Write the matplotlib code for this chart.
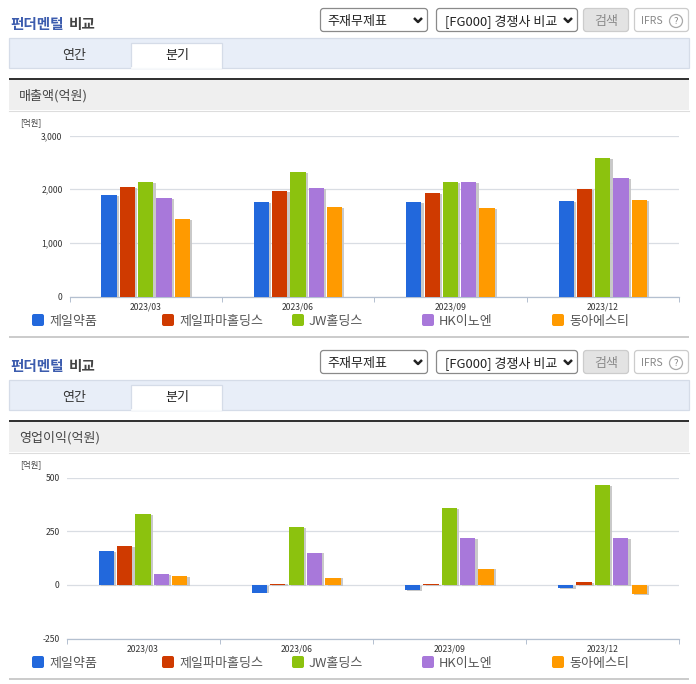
from matplotlib import pyplot as plt
from matplotlib import patheffects
from matplotlib.patches import Circle, FancyBboxPatch, Rectangle
from matplotlib.ticker import FixedLocator, FuncFormatter
import numpy as np

plt.rcParams['font.family'] = ['Noto Sans CJK KR', 'DejaVu Sans']

quarters = ['2023/03', '2023/06', '2023/09', '2023/12']
companies = ['제일약품', '제일파마홀딩스', 'JW홀딩스', 'HK이노엔', '동아에스티']
colors = ['#2268dc', '#cf3a00', '#8cc20e', '#a878da', '#ff9a00']

# one row per quarter, one column per company
sales = [
    [1886, 2035, 2129, 1830, 1444],
    [1755, 1967, 2322, 2017, 1662],
    [1755, 1930, 2129, 2129, 1643],
    [1774, 1998, 2577, 2203, 1793],
]
profit = [
    [159, 182, 330, 52, 39],
    [-36, 6, 270, 150, 34],
    [-26, 3, 358, 219, 76],
    [-17, 11, 465, 219, -45],
]
sales_ticks = [0, 1000, 2000, 3000]
profit_ticks = [-250, 0, 250, 500]

W, H = 696, 684
GAP = 342


def pt(px):
    return px * 0.72


def rounded(bg, x0, y0, x1, y1, face, edge):
    bg.add_patch(FancyBboxPatch((x0, y0), x1 - x0, y1 - y0, boxstyle='round,pad=0,rounding_size=3',
                                facecolor=face, edgecolor=edge, linewidth=0.9))


def chevron(bg, x, y):
    bg.plot([x - 4, x, x + 4], [y - 2, y + 2, y - 2], color='#222222', lw=1.8, solid_capstyle='butt')


def draw_header(bg, dy, band_title):
    bg.text(10, 24 + dy, '펀더멘털', color='#3c5cae', fontsize=pt(14.6), fontweight='bold', va='center')
    bg.text(69, 24 + dy, '비교', color='#444444', fontsize=pt(14.6), fontweight='bold', va='center')

    rounded(bg, 320.5, 8.5 + dy, 427.5, 31.5 + dy, 'white', '#8a8a8a')
    bg.text(327, 21 + dy, '주재무제표', color='#222222', fontsize=pt(13), va='center')
    chevron(bg, 418, 20 + dy)
    rounded(bg, 436.5, 8.5 + dy, 577.5, 31.5 + dy, 'white', '#8a8a8a')
    bg.text(445, 21 + dy, '[FG000] 경쟁사 비교', color='#222222', fontsize=pt(13), va='center')
    chevron(bg, 568, 20 + dy)
    rounded(bg, 583.5, 8.5 + dy, 628.5, 31.5 + dy, '#e3e3e3', '#cccccc')
    bg.text(606, 21 + dy, '검색', color='#8a8a8a', fontsize=pt(13), ha='center', va='center')
    rounded(bg, 634.5, 8.5 + dy, 688.5, 31.5 + dy, 'white', '#cccccc')
    bg.text(641, 21 + dy, 'IFRS', color='#888888', fontsize=pt(10.5), va='center')
    bg.add_patch(Circle((676, 21 + dy), 6.5, facecolor='white', edgecolor='#aaaaaa', lw=0.9))
    bg.text(676, 21 + dy, '?', color='#888888', fontsize=pt(9.5), ha='center', va='center')

    bg.add_patch(Rectangle((9, 38 + dy), 680, 29.5, facecolor='#e8eef8', edgecolor='#d5dce8', lw=0.9))
    bg.add_patch(Rectangle((131, 43 + dy), 91, 25, facecolor='white', edgecolor='#d5dce8', lw=0.9))
    bg.plot([132, 221], [67.5 + dy, 67.5 + dy], color='white', lw=1.2)
    bg.text(74, 56 + dy, '연간', color='#333333', fontsize=pt(13), ha='center', va='center')
    bg.text(177, 56 + dy, '분기', color='#222222', fontsize=pt(13), ha='center', va='center')

    bg.add_patch(Rectangle((9, 80 + dy), 680, 30, facecolor='#efefef', edgecolor='none'))
    bg.add_patch(Rectangle((9, 78 + dy), 680, 2, facecolor='#333333', edgecolor='none'))
    bg.plot([9, 689], [110.5 + dy, 110.5 + dy], color='#dddddd', lw=0.8)
    bg.text(19, 96 + dy, band_title, color='#444444', fontsize=pt(13), va='center')
    bg.text(20, 122.5 + dy, '[억원]', color='#444444', fontsize=pt(8.5), va='center')


def draw_legend(bg, dy):
    for x, name, color in zip([32, 162, 292, 422, 552], companies, colors):
        bg.add_patch(FancyBboxPatch((x, 314 + dy), 12, 12, boxstyle='round,pad=0,rounding_size=2',
                                    facecolor=color, edgecolor='none'))
        bg.text(x + 17, 321 + dy, name, color='#555555', fontsize=pt(13), va='center')
    bg.add_patch(Rectangle((9, 336 + dy), 680, 2, facecolor='#cccccc', edgecolor='none'))


def draw_chart(fig, left, top, right, bottom, rows, ticks):
    ax = fig.add_axes([left / W, 1 - bottom / H, (right - left) / W, (bottom - top) / H])
    ax.patch.set_alpha(0)
    rows = np.array(rows)
    positions = np.arange(len(quarters))
    for i, color in enumerate(colors):
        bars = ax.bar(positions + (i - 2) * 0.12, rows[:, i], width=0.1, color=color, zorder=3)
        for bar in bars:
            bar.set_path_effects([
                patheffects.SimplePatchShadow(offset=(1.6, -0.6), shadow_rgbFace='#c4c4c4', alpha=0.9),
                patheffects.Normal(),
            ])
    ax.set_xlim(-0.5, len(quarters) - 0.5)
    ax.set_ylim(ticks[0], ticks[-1])
    ax.set_yticks(ticks)
    ax.yaxis.set_major_formatter(FuncFormatter(lambda v, _: f'{int(v):,}'))
    ax.set_xticks(positions)
    ax.set_xticklabels(quarters)
    ax.xaxis.set_minor_locator(FixedLocator(np.arange(len(quarters) + 1) - 0.5))
    ax.grid(axis='y', color='#d9dde3', lw=0.9, zorder=0)
    ax.tick_params(axis='y', length=0, pad=5, labelsize=pt(8.6), labelcolor='#333333')
    ax.tick_params(axis='x', which='major', length=0, pad=4, labelsize=pt(8.6), labelcolor='#333333')
    ax.tick_params(axis='x', which='minor', length=3.5, width=0.7, color='#b4c0d0')
    for side in ['top', 'left', 'right']:
        ax.spines[side].set_visible(False)
    ax.spines['bottom'].set_color('#b4c0d0')
    ax.spines['bottom'].set_linewidth(0.9)
    return ax


def main():
    fig = plt.figure(figsize=(W / 100, H / 100), dpi=100, facecolor='white')
    bg = fig.add_axes([0, 0, 1, 1])
    bg.set_xlim(0, W)
    bg.set_ylim(H, 0)
    bg.axis('off')

    draw_header(bg, 0, '매출액(억원)')
    draw_legend(bg, 0)
    draw_header(bg, GAP, '영업이익(억원)')
    draw_legend(bg, GAP)

    draw_chart(fig, 69.5, 135.5, 679, 296.5, sales, sales_ticks)
    draw_chart(fig, 66.5, 477.5, 679, 638.5, profit, profit_ticks)

    fig.savefig('out.png', dpi=100)


if __name__ == '__main__':
    main()
